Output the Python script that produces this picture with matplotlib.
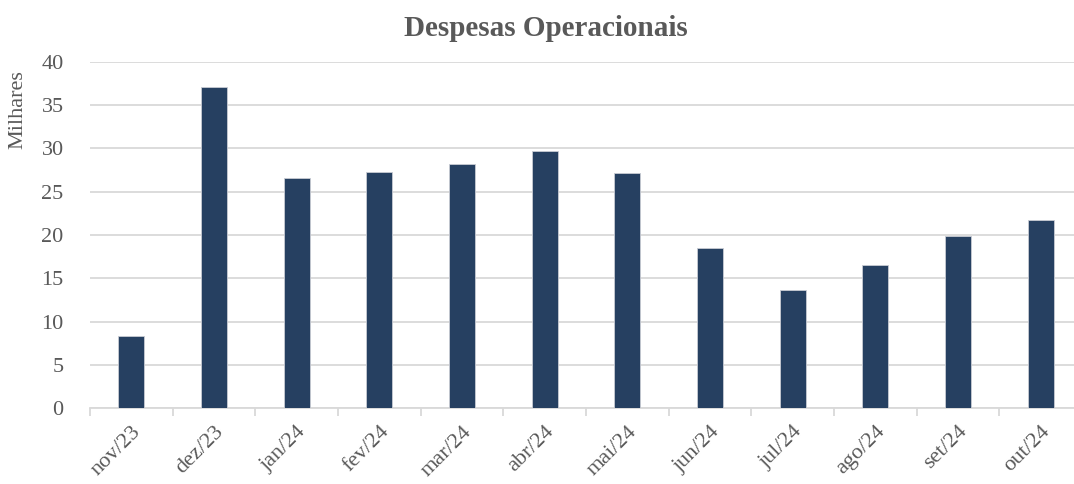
import numpy as np
import matplotlib.pyplot as plt

meses = ['nov/23', 'dez/23', 'jan/24', 'fev/24', 'mar/24', 'abr/24',
         'mai/24', 'jun/24', 'jul/24', 'ago/24', 'set/24', 'out/24']
despesas = [8.34, 37.08, 26.54, 27.27, 28.23, 29.69,
            27.19, 18.46, 13.65, 16.50, 19.85, 21.77]
y_ticks = [0, 5, 10, 15, 20, 25, 30, 35, 40]

plt.rcParams['font.family'] = ['Liberation Serif', 'DejaVu Serif']
cinza = '#595959'
grade = '#d9d9d9'

W, H = 1074, 484
fig = plt.figure(figsize=(W / 100, H / 100), dpi=100)
# eixo vai um pouco além da borda direita, como no original
ax = fig.add_axes([90 / W, (H - 408.3) / H, (1082 - 90) / W, (408.3 - 61.7) / H])

x = np.arange(len(meses))
ax.bar(x, despesas, width=0.314, color='#264061', edgecolor='#c8ccd4',
       linewidth=0.6, zorder=3)

ax.set_xlim(-0.5, len(meses) - 0.5)
ax.set_ylim(0, 40)
ax.set_yticks(y_ticks)
ax.yaxis.grid(True, color=grade, linewidth=1.3, zorder=0)
ax.set_axisbelow(True)

for s in ['top', 'right', 'left']:
    ax.spines[s].set_visible(False)
ax.spines['bottom'].set_color(grade)
ax.spines['bottom'].set_linewidth(1.3)

ax.tick_params(axis='y', length=0, labelsize=16, labelcolor=cinza, pad=19)
ax.set_xticks(x)
ax.set_xticklabels(meses, rotation=45, ha='right', rotation_mode='anchor')
ax.tick_params(axis='x', which='major', length=0, labelsize=16,
               labelcolor=cinza, pad=10)
ax.set_xticks(np.arange(-0.5, len(meses), 1), minor=True)
ax.tick_params(axis='x', which='minor', length=6, width=1.3, color=grade)

fig.text(546 / W, (H - 28) / H, 'Despesas Operacionais', ha='center',
         va='center', fontsize=21, fontweight='bold', color=cinza)
fig.text(18 / W, (H - 110) / H, 'Milhares', rotation=90, ha='center',
         va='center', fontsize=16, color=cinza)

fig.savefig('out.png', dpi=100)
